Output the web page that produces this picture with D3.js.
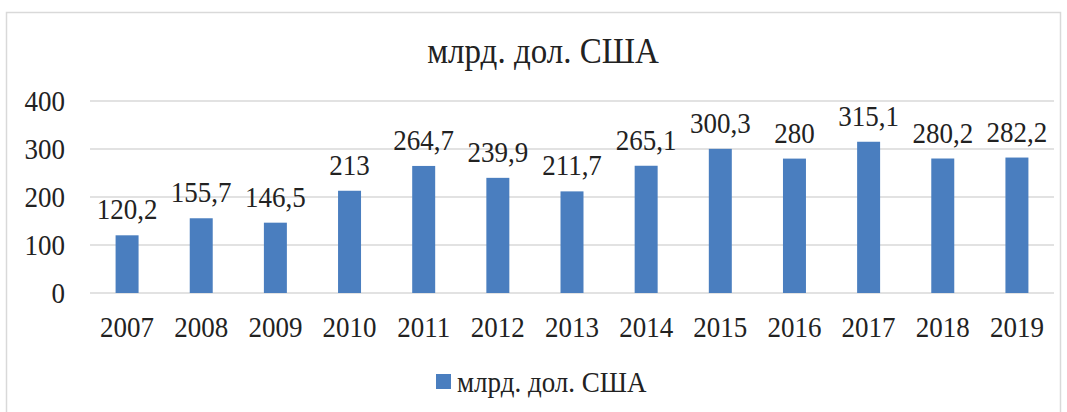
<!DOCTYPE html>
<meta charset='utf-8'>
<head>
  <title>млрд. дол. США</title>
</head>
<style>
body { margin: 0; background: #fff; }
.grid line { stroke: #d9d9d9; stroke-width: 1.5px; }
</style>
<body>
<svg width='1067' height='412'></svg>
<script src='https://cdn.jsdelivr.net/npm/d3@7'></script>
<script>
var years = ['2007','2008','2009','2010','2011','2012','2013','2014','2015','2016','2017','2018','2019'];
var values = [120.2, 155.7, 146.5, 213, 264.7, 239.9, 211.7, 265.1, 300.3, 280, 315.1, 280.2, 282.2];
var yTicks = [0, 100, 200, 300, 400];
var seriesName = 'млрд. дол. США';
var color = '#4a7ebf';
var font = "'Liberation Serif'";
var stretch = 1.1;

var svg = d3.select('svg');

function label(sel) {
  return sel
    .style('font-family', font)
    .style('fill', '#222');
}
// baseline at (x, y), text a little taller than wide like the reference
function place(x, y) {
  return 'translate(' + x + ',' + y + ') scale(1,' + stretch + ')';
}

// outer frame
svg.append('rect')
  .attr('x', 6.5).attr('y', 12.5)
  .attr('width', 1054).attr('height', 420)
  .attr('fill', 'none').attr('stroke', '#d9d9d9').attr('stroke-width', 1.5);

var x = d3.scaleBand().domain(years).range([90, 1054]).paddingInner(0.69).paddingOuter(0.345);
var y = d3.scaleLinear().domain([0, 400]).range([293, 101]);

label(svg.append('text'))
  .attr('transform', place(543, 63))
  .attr('text-anchor', 'middle')
  .style('font-size', '33px')
  .text(seriesName);

var grid = svg.append('g').attr('class', 'grid');
grid.selectAll('line').data(yTicks).enter().append('line')
  .attr('x1', 90).attr('x2', 1054)
  .attr('y1', function(d) { return y(d); })
  .attr('y2', function(d) { return y(d); });

label(svg.append('g').selectAll('text').data(yTicks).enter().append('text'))
  .attr('transform', function(d) { return place(65, y(d) + 10); })
  .attr('text-anchor', 'end')
  .style('font-size', '27px')
  .text(function(d) { return d; });

svg.append('g').selectAll('rect').data(values).enter().append('rect')
  .attr('x', function(d, i) { return x(years[i]); })
  .attr('width', x.bandwidth())
  .attr('y', function(d) { return y(d); })
  .attr('height', function(d) { return y(0) - y(d); })
  .attr('fill', color);

label(svg.append('g').selectAll('text').data(values).enter().append('text'))
  .attr('transform', function(d, i) { return place(x(years[i]) + x.bandwidth() / 2, y(d) - 16); })
  .attr('text-anchor', 'middle')
  .style('font-size', '27px')
  .text(function(d) { return String(d).replace('.', ','); });

label(svg.append('g').selectAll('text').data(years).enter().append('text'))
  .attr('transform', function(d) { return place(x(d) + x.bandwidth() / 2, 337); })
  .attr('text-anchor', 'middle')
  .style('font-size', '27px')
  .text(function(d) { return d; });

// legend
svg.append('rect')
  .attr('x', 436).attr('y', 374).attr('width', 15).attr('height', 15)
  .attr('fill', color);
label(svg.append('text'))
  .attr('transform', place(457, 392))
  .style('font-size', '27px')
  .text(seriesName);
</script>
</body>
</html>
